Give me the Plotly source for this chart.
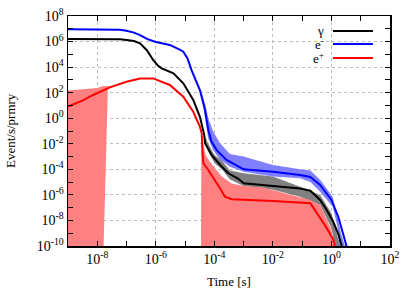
import plotly.graph_objects as go

# ---------------- data ----------------
# gamma (black)
gamma_t = [1e-9, 1e-8, 3e-8, 6e-8, 1e-7, 1.8e-7, 2.9e-7, 5e-7, 8.1e-7, 1.2e-6, 1.6e-6, 2.5e-6,
           4e-6, 8.7e-6, 1.9e-5, 3.2e-5, 4e-5, 4.5e-5, 4.8e-5, 8.1e-5, 1.8e-4, 3e-4, 6.6e-4,
           1e-3, 1e-2, 8.5e-2, 0.19, 0.41, 0.69, 1.15, 1.74, 2.24, 2.6]
gamma_v = [1.6e6, 1.6e6, 1.55e6, 1.5e6, 1.35e6, 1.1e6, 7.2e5, 2e5, 3.6e4, 1.26e4, 7.9e3, 5e3,
           3.3e3, 5.4e2, 27, 1.3, 0.12, 5e-2, 1.1e-2, 1.3e-3, 1.6e-4, 4.9e-5, 1.8e-5,
           8e-6, 5e-6, 3.2e-6, 2.1e-6, 4e-7, 6.6e-8, 7.9e-9, 7.9e-10, 1e-10, 3e-11]
gamma_band_t = [4.6e-5, 6.2e-5, 1e-4, 1.8e-4, 3.4e-4, 1e-3, 1e-2, 8.5e-2, 0.41, 1.0, 1.6, 2.1, 2.4]
gamma_band_hi = [5e-2, 1e-2, 1.3e-3, 5e-4, 8e-5, 5e-5, 2.7e-5, 4.4e-6, 1e-6, 3.6e-8, 6e-10, 1e-10, 1e-11]
gamma_band_lo = [1.5e-2, 2.5e-3, 3.2e-4, 1e-4, 1.6e-5, 5e-6, 2.5e-6, 7.2e-7, 1.6e-7, 2.5e-9, 1e-11, 1e-11, 1e-11]

# electrons (blue)
elec_t = [1e-9, 3e-8, 6e-8, 1e-7, 1.8e-7, 2.9e-7, 5e-7, 9.3e-7, 1.6e-6, 3e-6, 6.8e-6, 8.7e-6,
          1.2e-5, 1.66e-5, 3.2e-5, 4.8e-5, 6.2e-5, 8e-5, 1.2e-4, 2.6e-4, 1e-3, 1e-2, 8.5e-2,
          0.19, 0.41, 1.0, 1.7, 2.5, 3.3, 3.8]
elec_v = [9e6, 9e6, 8.5e6, 7e6, 5e6, 3.2e6, 1.6e6, 9.8e5, 7.5e5, 5.4e5, 2.2e5, 1.6e5,
          5e4, 5.9e3, 1.6e2, 4.4, 0.12, 1.5e-2, 3.2e-3, 5.4e-4, 1e-4, 6.6e-5, 3.6e-5,
          2.5e-5, 6e-6, 4e-7, 2e-8, 1e-9, 1e-10, 3e-11]
elec_band_t = [3.5e-5, 5e-5, 6.2e-5, 9e-5, 1.55e-4, 3.4e-4, 1e-3, 1e-2, 8.5e-2, 0.19, 0.41, 1.1, 1.6, 2.1, 4.0]
elec_band_hi = [1.6e2, 10, 1, 0.1, 1.1e-2, 1.6e-3, 1e-3, 2.2e-4, 1e-4, 8e-5, 1.5e-5, 7.2e-7, 2e-8, 1e-9, 1e-11]
elec_band_lo = [1e2, 0.6, 2.5e-2, 3.2e-3, 6e-4, 1.6e-4, 6.6e-5, 2.7e-5, 2e-5, 1e-5, 1.8e-6, 1.2e-7, 3.2e-9, 1e-11, 1e-11]

# positrons (red)
posi_t = [1e-9, 3.2e-9, 7.2e-9, 2.7e-8, 1e-7, 2.9e-7, 8.1e-7, 3e-6, 8.7e-6, 1.9e-5, 3.2e-5,
          3.7e-5, 3.9e-5, 4.2e-5, 6.2e-5, 1.05e-4, 1.55e-4, 2.3e-4, 3.9e-4, 1e-2, 0.19,
          0.24, 0.69, 1.15, 1.3, 1.5]
posi_v = [8, 25, 66, 2.6e2, 7.2e2, 1.3e3, 1.3e3, 4e2, 49, 3.2, 0.22,
          6.6e-2, 3.2e-3, 3e-4, 8.9e-5, 1.5e-5, 3.3e-6, 7.2e-7, 4.6e-7, 3.4e-7, 2.2e-7,
          1e-7, 2.5e-9, 3.2e-10, 1e-10, 3e-11]
posi_band1_t = [1e-9, 1e-8, 1.6e-8, 2.3e-8, 3.5e-8]
posi_band1_hi = [1.45e2, 2.3e2, 3.3e2, 3.3e2, 3.2e2]
posi_band1_lo = [1e-11, 1e-11, 1e-11, 2e2, 3.2e2]
posi_band2_t = [3.5e-5, 3.6e-5, 4.2e-5, 5e-5, 7e-5, 1.8e-4, 3.9e-4, 1e-3, 4.2e-3, 8.5e-2, 0.19, 0.41, 1.0, 1.5]
posi_band2_hi = [1e-11, 1e-1, 1e-2, 1.3e-3, 4e-4, 2.7e-5, 7.9e-6, 5e-6, 4e-6, 7.2e-7, 4e-7, 1.6e-7, 1.8e-9, 1e-11]
posi_band2_lo = [1e-11] * len(posi_band2_t)

legend_names = ["γ", "e<sup>-</sup>", "e<sup>+</sup>"]
x_tick_exp = [-8, -6, -4, -2, 0, 2]
y_tick_exp = [8, 6, 4, 2, 0, -2, -4, -6, -8, -10]

# ---------------- figure ----------------
FONT = "Liberation Serif"
fig = go.Figure()


def band(t, lo, hi, color):
    fig.add_trace(go.Scatter(x=list(t) + list(t)[::-1], y=list(hi) + list(lo)[::-1],
                             fill="toself", fillcolor=color, line=dict(width=0),
                             mode="lines", hoverinfo="skip", showlegend=False))


band(gamma_band_t, gamma_band_lo, gamma_band_hi, "#808080")
band(elec_band_t, elec_band_lo, elec_band_hi, "#8080ff")
band(posi_band1_t, posi_band1_lo, posi_band1_hi, "#ff8080")
band(posi_band2_t, posi_band2_lo, posi_band2_hi, "#ff8080")

for t, v, c, n in [(gamma_t, gamma_v, "#000000", legend_names[0]),
                   (elec_t, elec_v, "#0000ff", legend_names[1]),
                   (posi_t, posi_v, "#ff0000", legend_names[2])]:
    fig.add_trace(go.Scatter(x=t, y=v, mode="lines", name=n,
                             line=dict(color=c, width=2), showlegend=False))

# manual gnuplot-style key (text left of the sample line)
key_y = [0.935, 0.878, 0.817]
key_c = ["#000000", "#0000ff", "#ff0000"]
for name, yy, cc in zip(legend_names, key_y, key_c):
    fig.add_annotation(x=0.80, y=yy, xref="paper", yref="paper", text=name,
                       showarrow=False, xanchor="right", yanchor="middle",
                       font=dict(family=FONT, size=13, color="black"))
    fig.add_shape(type="line", xref="paper", yref="paper", x0=0.823, x1=0.947,
                  y0=yy, y1=yy, line=dict(color=cc, width=2))

# axis titles
fig.add_annotation(x=0.5, y=-0.155, xref="paper", yref="paper", text="Time [s]",
                   showarrow=False, xanchor="center", yanchor="middle",
                   font=dict(family=FONT, size=13, color="black"))
fig.add_annotation(x=-0.18, y=0.5, xref="paper", yref="paper", text="Event/s/prmry",
                   showarrow=False, xanchor="center", yanchor="middle", textangle=-90,
                   font=dict(family=FONT, size=13, color="black"))

xt_vals = [10.0 ** e for e in x_tick_exp]
xt_text = ["10<sup>%d</sup>" % e for e in x_tick_exp]
yt_vals = [10.0 ** e for e in y_tick_exp]
yt_text = ["10<sup>%d</sup>" % e for e in y_tick_exp]

axis_common = dict(showline=True, linecolor="black", linewidth=1.5, mirror="ticks",
                   ticks="inside", ticklen=5, tickcolor="black", tickwidth=1,
                   showgrid=True, gridcolor="#bdbdbd", griddash="dot", gridwidth=1,
                   zeroline=False, automargin=False,
                   tickfont=dict(family=FONT, size=14, color="black"))

fig.update_xaxes(type="log", range=[-9, 2], tickmode="array", tickvals=xt_vals, ticktext=xt_text,
                 minor=dict(tickvals=[10.0 ** e for e in range(-9, 3)], ticks="inside",
                            ticklen=5, tickcolor="black", showgrid=False),
                 **axis_common)
fig.update_yaxes(type="log", range=[-10, 8], tickmode="array", tickvals=yt_vals, ticktext=yt_text,
                 minor=dict(tickvals=[10.0 ** e for e in range(-10, 9)], ticks="inside",
                            ticklen=5, tickcolor="black", showgrid=False),
                 **axis_common)

fig.update_layout(width=415, height=291, margin=dict(l=68, r=25, t=16, b=45),
                  paper_bgcolor="white", plot_bgcolor="white", showlegend=False,
                  hovermode=False,
                  font=dict(family=FONT, size=13, color="black"))

fig.write_html("out.html", config={"displayModeBar": False, "staticPlot": True},
               post_script="document.body.style.margin='0';")
